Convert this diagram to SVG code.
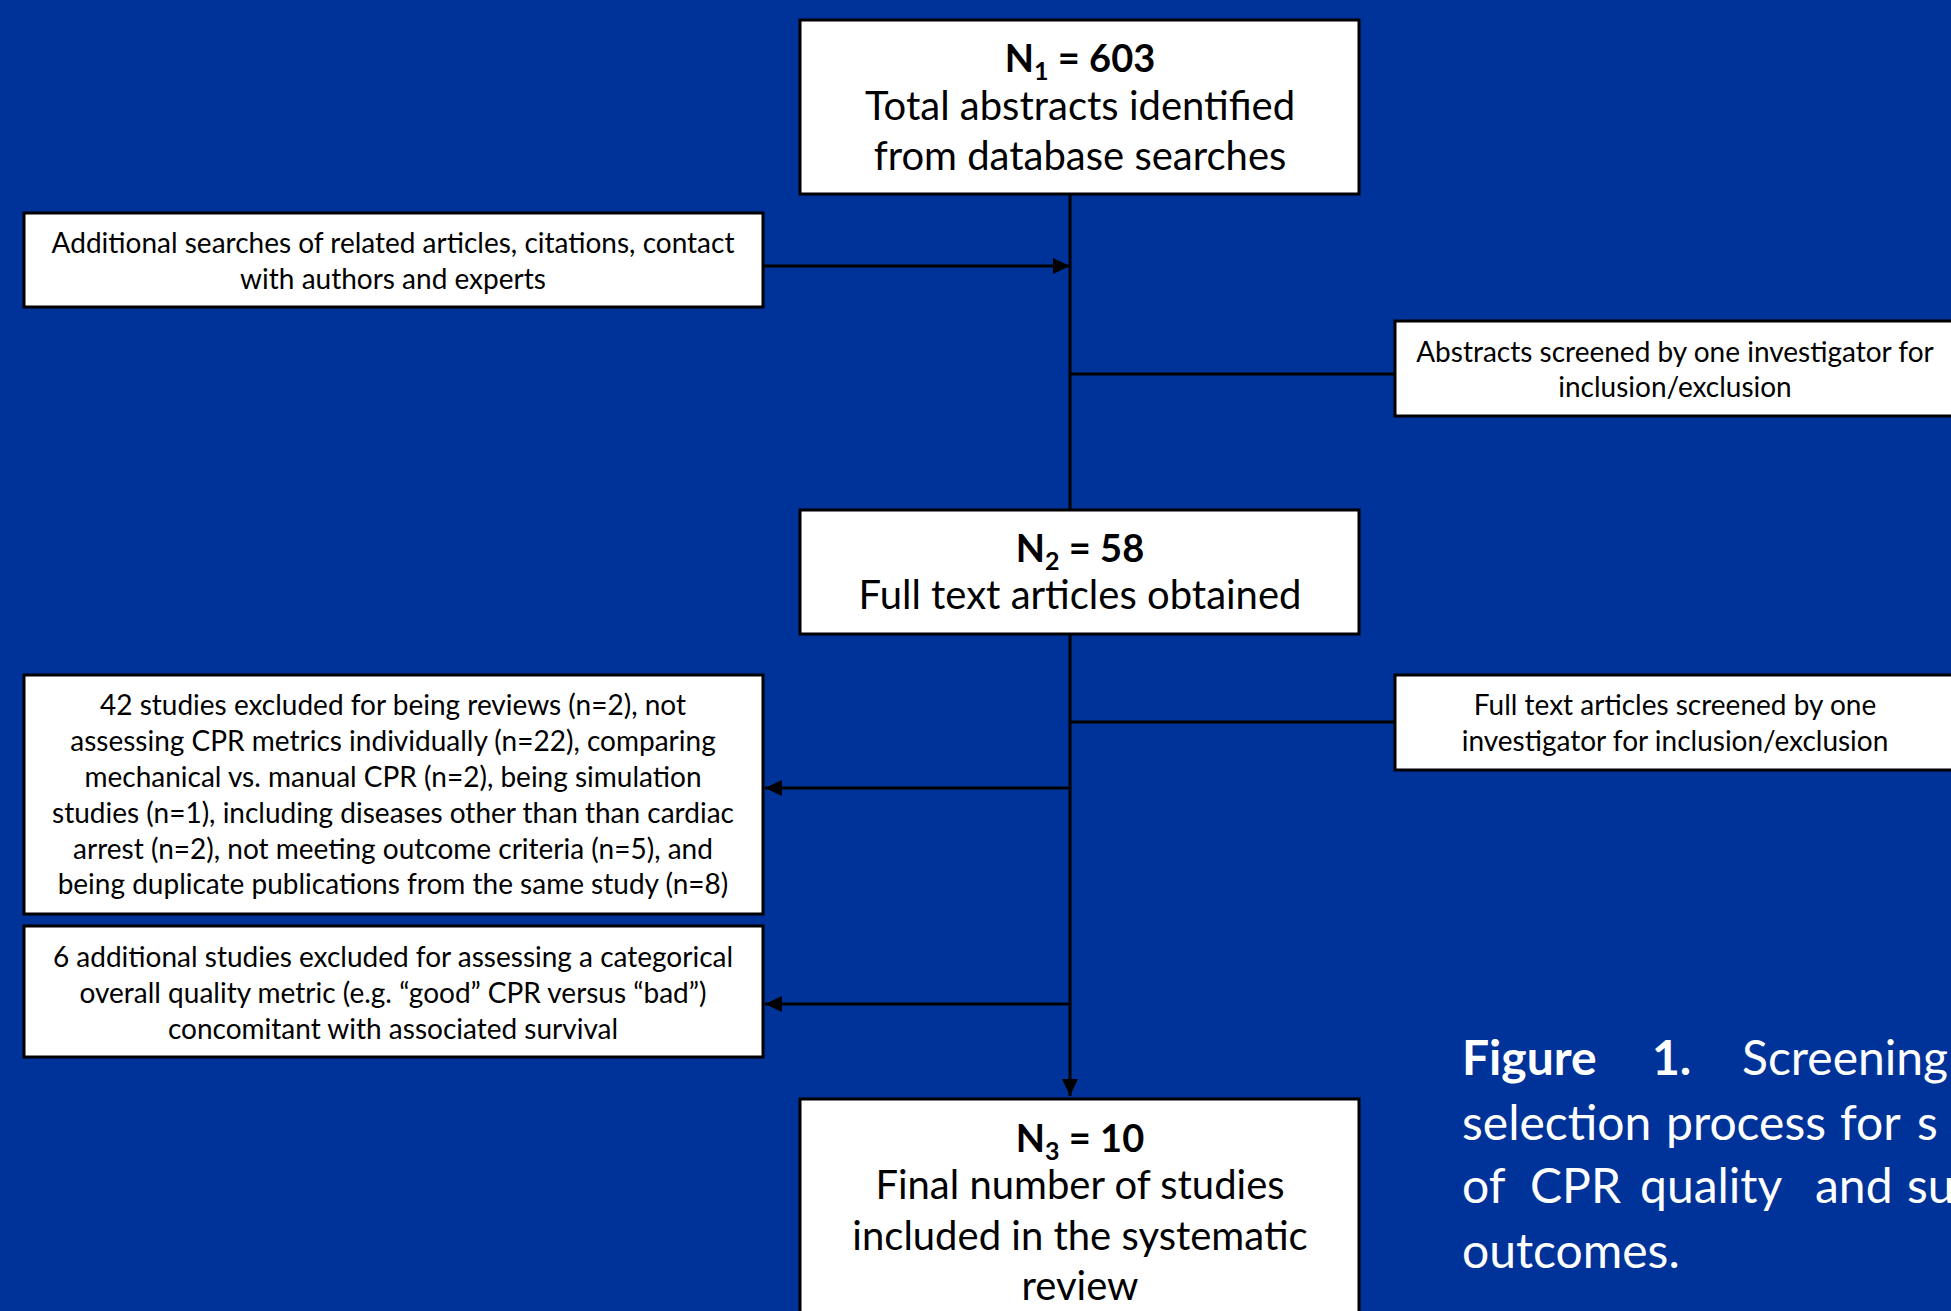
<svg xmlns="http://www.w3.org/2000/svg" width="1951" height="1311" viewBox="0 0 1951 1311">
<defs>
<marker id="arr" markerUnits="userSpaceOnUse" markerWidth="18" markerHeight="16" refX="17" refY="8" orient="auto">
<path d="M0,0 L17,8 L0,16 z" fill="#000"/>
</marker>
<style>
.box{fill:#fff;stroke:#000;stroke-width:3}
.ln{stroke:#000;stroke-width:3;fill:none}
.s{font-family:Lato,"Liberation Sans",sans-serif;font-size:28px;fill:#000;text-anchor:middle}
.b{font-family:Lato,"Liberation Sans",sans-serif;font-size:40px;fill:#000;text-anchor:middle}
.h{font-size:38px;font-weight:bold}
.bb{font-weight:bold}
.cap{font-family:Lato,"Liberation Sans",sans-serif;font-size:48px;fill:#fff}
</style>
</defs>
<rect x="0" y="0" width="1951" height="1311" fill="#003399"/>
<g id="connectors">
<line class="ln" x1="1070" y1="194" x2="1070" y2="1096" marker-end="url(#arr)"/>
<line class="ln" x1="764" y1="266" x2="1070" y2="266" marker-end="url(#arr)"/>
<line class="ln" x1="1070" y1="374" x2="1395" y2="374"/>
<line class="ln" x1="1070" y1="722" x2="1395" y2="722"/>
<line class="ln" x1="1070" y1="788" x2="765" y2="788" marker-end="url(#arr)"/>
<line class="ln" x1="1070" y1="1004" x2="765" y2="1004" marker-end="url(#arr)"/>
</g>
<g id="n1">
<rect class="box" x="800" y="20" width="559" height="174"/>
<text class="b h" x="1080" y="72">N<tspan font-size="25" dy="8">1</tspan><tspan dy="-8"> = 603</tspan></text>
<text class="b" x="1080" y="120">Total abstracts identified</text>
<text class="b" x="1080" y="170">from database searches</text>
</g>
<g id="additional">
<rect class="box" x="24" y="213" width="739" height="94"/>
<text class="s" x="393" y="253">Additional searches of related articles, citations, contact</text>
<text class="s" x="393" y="289">with authors and experts</text>
</g>
<g id="screen1">
<rect class="box" x="1395" y="321" width="580" height="95"/>
<text class="s" x="1675" y="362">Abstracts screened by one investigator for</text>
<text class="s" x="1675" y="397">inclusion/exclusion</text>
</g>
<g id="n2">
<rect class="box" x="800" y="510" width="559" height="124"/>
<text class="b h" x="1080" y="562">N<tspan font-size="25" dy="8">2</tspan><tspan dy="-8"> = 58</tspan></text>
<text class="b" x="1080" y="609">Full text articles obtained</text>
</g>
<g id="screen2">
<rect class="box" x="1395" y="675" width="580" height="95"/>
<text class="s" x="1675" y="715">Full text articles screened by one</text>
<text class="s" x="1675" y="751">investigator for inclusion/exclusion</text>
</g>
<g id="excluded42">
<rect class="box" x="24" y="675" width="739" height="239"/>
<text class="s" x="393" y="715">42 studies excluded for being reviews (n=2), not</text>
<text class="s" x="393" y="751">assessing CPR metrics individually (n=22), comparing</text>
<text class="s" x="393" y="787">mechanical vs. manual CPR (n=2), being simulation</text>
<text class="s" x="393" y="823">studies (n=1), including diseases other than than cardiac</text>
<text class="s" x="393" y="859">arrest (n=2), not meeting outcome criteria (n=5), and</text>
<text class="s" x="393" y="894">being duplicate publications from the same study (n=8)</text>
</g>
<g id="excluded6">
<rect class="box" x="24" y="926" width="739" height="131"/>
<text class="s" x="393" y="967">6 additional studies excluded for assessing a categorical</text>
<text class="s" x="393" y="1003">overall quality metric (e.g. “good” CPR versus “bad”)</text>
<text class="s" x="393" y="1039">concomitant with associated survival</text>
</g>
<g id="n3">
<rect class="box" x="800" y="1099" width="559" height="230"/>
<text class="b h" x="1080" y="1152">N<tspan font-size="25" dy="8">3</tspan><tspan dy="-8"> = 10</tspan></text>
<text class="b" x="1080" y="1199">Final number of studies</text>
<text class="b" x="1080" y="1250">included in the systematic</text>
<text class="b" x="1080" y="1300">review</text>
</g>
<g id="caption">
<text class="cap bb" x="1462" y="1075">Figure</text>
<text class="cap bb" x="1652" y="1075">1.</text>
<text class="cap" x="1742" y="1075">Screening</text>
<text class="cap" x="1462" y="1140">selection</text>
<text class="cap" x="1666" y="1140">process</text>
<text class="cap" x="1840" y="1140">for</text>
<text class="cap" x="1917" y="1140">s</text>
<text class="cap" x="1462" y="1203">of</text>
<text class="cap" x="1530" y="1203">CPR</text>
<text class="cap" x="1640" y="1203">quality</text>
<text class="cap" x="1815" y="1203">and</text>
<text class="cap" x="1907" y="1203">su</text>
<text class="cap" x="1462" y="1268">outcomes.</text>
</g>
</svg>
